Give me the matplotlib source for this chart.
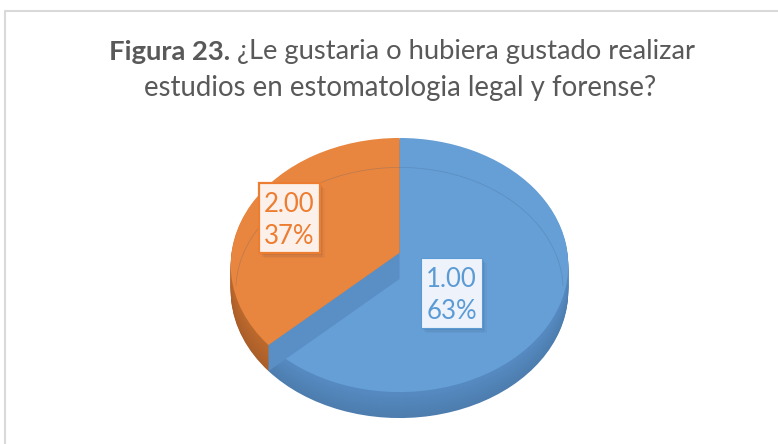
import numpy as np
import matplotlib
matplotlib.use('Agg')
import matplotlib.pyplot as plt
from matplotlib.patches import Rectangle, Polygon
from matplotlib.transforms import Transform

plt.rcParams['font.family'] = ['Lato', 'DejaVu Sans']

categories = ['1.00', '2.00']
percents = [63, 37]
top_colors = ['#659fd6', '#e8853f']
wall_colors = ['#568bc2', '#bd692d']
text_colors = ['#5b9bd5', '#ed7d31']
title_bold = 'Figura 23.'
title_rest = ' ¿Le gustaria o hubiera gustado realizar'
title_line2 = 'estudios en estomatologia legal y forense?'

# pie geometry in pixels
CX, CY = 399.5, 253
RX, RY = 168, 125.9
TILT = 0.0945
DEPTH = 26


class PieView(Transform):
  # unit pie -> tilted pie on the page, far side is smaller
  input_dims = 2
  output_dims = 2

  def __init__(self, shift=0, scale=1.0):
    super().__init__()
    self.shift = shift
    self.scale = scale

  def transform_non_affine(self, xy):
    xy = np.asarray(xy, dtype=float)
    w = 1 + TILT * xy[:, 1]
    return np.column_stack([CX + self.scale * RX * xy[:, 0] / w,
                            CY + self.shift - self.scale * RY * xy[:, 1] / w])


def mix(c1, c2, t):
  a = np.array(matplotlib.colors.to_rgb(c1))
  b = np.array(matplotlib.colors.to_rgb(c2))
  return tuple(a + (b - a) * t)


fig = plt.figure(figsize=(7.78, 4.44), dpi=100)
ax = fig.add_axes([0, 0, 1, 1])
wall_list = []
# side wall: stacked copies of the pie, lowest first
for d in range(DEPTH, 0, -1):
  t = d / DEPTH
  cols = [mix(wall_colors[i], '#000000', 0.10 * t) for i in range(2)]
  wedges, _ = ax.pie(percents, colors=cols, startangle=90, counterclock=False)
  wall_list.append((wedges, d))
top, _ = ax.pie(percents, colors=top_colors, startangle=90, counterclock=False)

ax.set_aspect('auto')
ax.set_xlim(0, 778)
ax.set_ylim(444, 0)
ax.axis('off')

for wedges, d in wall_list:
  for w in wedges:
    w.set_transform(PieView(d) + ax.transData)
    w.set_linewidth(0)
for w in top:
  w.set_transform(PieView() + ax.transData)
  w.set_linewidth(0)

# wall of the blue slice seen along the cut, sits over the blue top
ang = np.pi / 2 + 2 * np.pi * percents[1] / sum(percents)
cut = np.array([[0, 0], [np.cos(ang), np.sin(ang)]])
edge = PieView().transform_non_affine(cut)
low = PieView(DEPTH).transform_non_affine(cut)
ax.add_patch(Polygon([edge[0], edge[1], low[1], low[0]], closed=True,
                     facecolor='#5a8fc6', edgecolor='none', zorder=3))

# back rim that shows through the top
th = np.linspace(np.radians(-3), np.radians(183), 120)
rim = PieView(DEPTH, 0.97).transform_non_affine(np.column_stack([np.cos(th), np.sin(th)]))
ax.plot(rim[:, 0], rim[:, 1], color='#3f5f80', lw=0.5, alpha=0.28, zorder=3)

# frame, only top and left show in the crop
ax.plot([5.5, 5.5, 778], [444, 11, 11], color='#d9d9d9', lw=1.5, zorder=1)

# data labels
boxes = [(421, 258, 61, 70), (259, 183, 61, 70)]
box_fill = ['#eef3fb', '#fbf0ea']
for i, (x, y, w, h) in enumerate(boxes):
  for off, al in [(5, 0.04), (3.5, 0.06), (2, 0.08)]:
    ax.add_patch(Rectangle((x + off, y + off), w, h, facecolor='#203040', alpha=al, edgecolor='none', zorder=4))
  ax.add_patch(Rectangle((x, y), w, h, facecolor=box_fill[i], edgecolor=text_colors[i], lw=1.6 if i else 0.8,
                         zorder=5))
  ax.text(x + w / 2, y + h / 2 + 2, categories[i] + '\n' + str(percents[i]) + '%', color=text_colors[i],
          fontsize=18.5, ha='center', va='center', linespacing=1.35, zorder=6)

# title, first line has a bold start so centre it by hand
t1 = ax.text(0, 52, title_bold, fontsize=19.7, fontweight='bold', color='#595959', va='center', ha='left')
t2 = ax.text(0, 52, title_rest, fontsize=19.7, color='#595959', va='center', ha='left')
ax.text(400, 88, title_line2, fontsize=19.9, color='#595959', va='center', ha='center')
fig.canvas.draw()
r = fig.canvas.get_renderer()
w1 = t1.get_window_extent(r).width
w2 = t2.get_window_extent(r).width
x0 = 402 - (w1 + w2) / 2
t1.set_x(x0)
t2.set_x(x0 + w1)

fig.savefig('out.png', dpi=100)
